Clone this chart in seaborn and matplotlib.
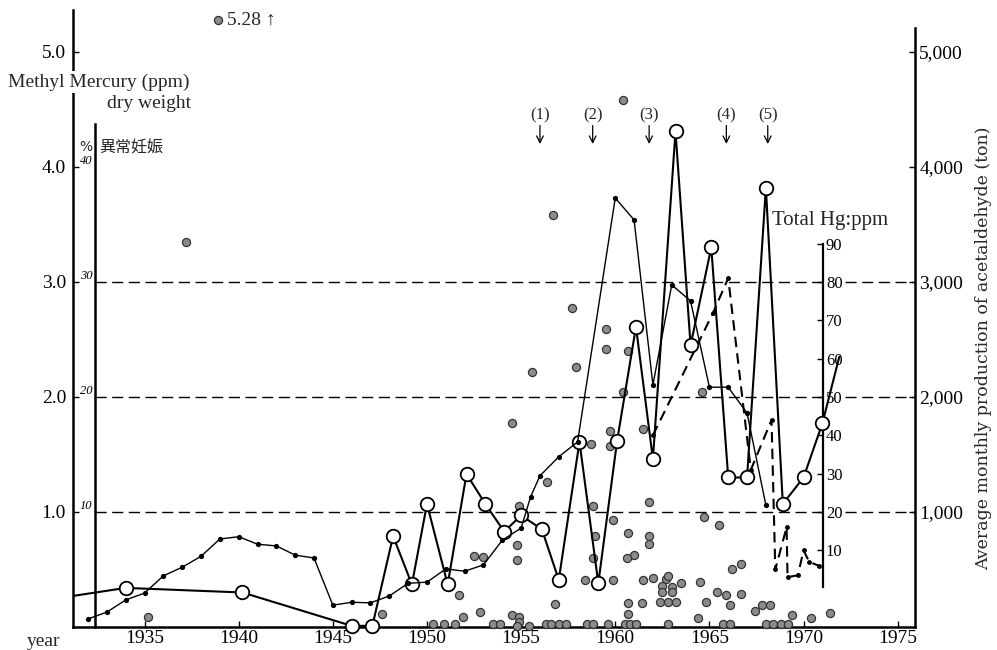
"""
水俣：脐带甲基汞浓度、异常妊娠率、总汞与乙醛月产量的历年对比图（复刻）。
"""

import matplotlib

matplotlib.use("Agg")
import matplotlib.pyplot as plt
import seaborn as sns

OUTPUT_PATH = "out.png"
FIG_W, FIG_H = 997, 650

# 坐标轴范围与刻度
YEAR_MIN, YEAR_MAX = 1931.2, 1975.92
PPM_MAX = 5.365
YEAR_TICKS = [1935, 1940, 1945, 1950, 1955, 1960, 1965, 1970, 1975]
PPM_TICKS = [1.0, 2.0, 3.0, 4.0, 5.0]
PCT_TICKS = [10, 20, 30, 40]
HG_TICKS = [10, 20, 30, 40, 50, 60, 70, 80, 90]
TON_TICKS = [1000, 2000, 3000, 4000, 5000]
GRID_PPM = [1.0, 2.0, 3.0]

# 额外纵轴所在的年份位置
PCT_AXIS_YEAR = 1932.37
HG_AXIS_YEAR = 1971.04

# 乙醛月平均产量（吨）
ACET_YEARS = [1932, 1933, 1934, 1935, 1936, 1937, 1938, 1939, 1940, 1941,
              1942, 1943, 1944, 1945, 1946, 1947, 1948, 1949, 1950, 1951,
              1952, 1953, 1954, 1955, 1955.5, 1956, 1957, 1958,
              1960, 1961, 1962, 1963, 1964, 1965, 1966, 1967, 1968]
ACET_TONS = [70, 130, 235, 295, 445, 520, 615, 765, 785, 720,
             705, 625, 600, 190, 215, 210, 270, 380, 390, 505,
             485, 540, 755, 860, 1130, 1315, 1480, 1610,
             3730, 3540, 2105, 2975, 2835, 2085, 2085, 1860, 1060]

# 异常妊娠（%），首尾两点只有连线没有圆圈
PCT_YEARS = [1931.2, 1934.0, 1940.2, 1946.0, 1947.1, 1948.2, 1949.2, 1950.0,
             1951.1, 1952.1, 1953.1, 1954.1, 1955.0, 1956.1, 1957.0, 1958.1,
             1959.1, 1960.1, 1961.1, 1962.0, 1963.2, 1964.0, 1965.1, 1966.0,
             1967.0, 1968.0, 1968.9, 1970.0, 1971.0, 1971.9]
PCT_VALUES = [2.7, 3.4, 3.0, 0.1, 0.1, 7.9, 3.7, 10.7,
              3.7, 13.3, 10.7, 8.3, 9.7, 8.5, 4.1, 16.1,
              3.8, 16.2, 26.1, 14.6, 43.1, 24.5, 33.0, 13.0,
              13.0, 38.2, 10.7, 13.0, 17.7, 23.5]

# 总汞（ppm），虚线
HG_YEARS = [1962.0, 1965.2, 1966.0, 1967.2, 1968.3, 1968.5, 1969.1, 1969.15,
            1969.7, 1970.0, 1970.3, 1970.8]
HG_VALUES = [40, 72, 81, 31, 44, 5, 16, 3, 3.5, 10, 7, 6]

# 脐带甲基汞（ppm，干重），灰色散点
CORD_YEARS = [1938.9, 1937.2, 1960.4, 1956.7, 1955.6, 1957.7, 1959.5, 1959.5,
              1957.9, 1960.7, 1960.4, 1964.6, 1954.5, 1956.4, 1958.7, 1959.7,
              1959.7, 1958.8, 1958.9, 1958.8, 1958.4, 1959.9, 1959.9, 1954.9,
              1954.8, 1954.8, 1956.8, 1951.7, 1952.5, 1953.0, 1952.8, 1951.9,
              1960.7, 1961.0, 1960.6, 1961.8, 1961.8, 1961.8, 1961.5, 1962.0,
              1962.7, 1962.8, 1962.5, 1963.0, 1963.5, 1962.5, 1963.0, 1962.4,
              1962.8, 1963.2, 1960.7, 1961.4, 1960.7, 1964.5, 1964.7, 1965.5,
              1966.2, 1966.7, 1965.4, 1965.9, 1966.7, 1964.8, 1966.1, 1967.4,
              1967.8, 1968.2, 1969.4, 1970.4, 1971.4, 1935.2, 1947.6, 1954.5,
              1954.9, 1954.9, 1961.5, 1964.4,
              1950.3, 1950.9, 1951.5, 1953.5, 1953.9, 1954.8, 1955.4, 1956.3,
              1956.6, 1957.0, 1957.4, 1958.5, 1958.8, 1959.6, 1960.5, 1960.8,
              1961.1, 1962.8, 1965.7, 1966.1, 1968.0, 1968.4, 1968.8, 1969.2]
CORD_PPM = [5.28, 3.35, 4.58, 3.58, 2.22, 2.77, 2.59, 2.42,
            2.26, 2.40, 2.04, 2.04, 1.77, 1.26, 1.59, 1.70,
            1.57, 1.05, 0.79, 0.60, 0.41, 0.41, 0.93, 1.05,
            0.71, 0.58, 0.20, 0.28, 0.62, 0.61, 0.13, 0.09,
            0.82, 0.63, 0.60, 1.09, 0.79, 0.72, 0.41, 0.43,
            0.42, 0.44, 0.36, 0.35, 0.38, 0.30, 0.30, 0.22,
            0.22, 0.22, 0.21, 0.21, 0.11, 0.39, 0.96, 0.89,
            0.50, 0.55, 0.30, 0.28, 0.29, 0.22, 0.19, 0.14,
            0.19, 0.19, 0.10, 0.08, 0.12, 0.09, 0.11, 0.10,
            0.09, 0.04, 1.72, 0.08,
            0.03, 0.03, 0.03, 0.03, 0.03, 0.01, 0.01, 0.03,
            0.03, 0.03, 0.03, 0.03, 0.03, 0.03, 0.03, 0.03,
            0.03, 0.03, 0.03, 0.03, 0.03, 0.03, 0.03, 0.03]

# 工艺变更标记 (1)-(5)
EVENT_YEARS = [1956.0, 1958.8, 1961.8, 1965.9, 1968.1]

SERIF = ["Liberation Serif", "DejaVu Sans"]
CJK = ["Noto Sans CJK JP", "DejaVu Sans"]


def fig_xy(px: float, py: float) -> tuple[float, float]:
    """像素坐标（左上为原点）转换为 figure 坐标。"""
    return px / FIG_W, 1 - py / FIG_H


def hide_spines(axis) -> None:
    for spine in axis.spines.values():
        spine.set_visible(False)


def main() -> None:
    sns.set_theme(style="white")
    plt.rcParams["font.family"] = SERIF
    plt.rcParams["axes.unicode_minus"] = False

    fig = plt.figure(figsize=(FIG_W / 100, FIG_H / 100), dpi=100)
    fig.patch.set_facecolor("white")
    ax = fig.add_axes([73 / FIG_W, 23 / FIG_H, 842 / FIG_W, 617 / FIG_H])
    ax.set_xlim(YEAR_MIN, YEAR_MAX)
    ax.set_ylim(0, PPM_MAX)
    ax.patch.set_alpha(0)

    hide_spines(ax)
    for side in ("left", "bottom"):
        ax.spines[side].set_visible(True)
        ax.spines[side].set_color("black")
        ax.spines[side].set_linewidth(1.8)

    ax.set_xticks(YEAR_TICKS, labels=[str(y) for y in YEAR_TICKS])
    ax.set_yticks(PPM_TICKS, labels=[f"{v:.1f}" for v in PPM_TICKS])
    ax.tick_params(axis="both", direction="in", length=4, width=1, colors="black",
                   labelsize=14, left=True, bottom=True)
    ax.tick_params(axis="x", pad=2)
    ax.tick_params(axis="y", pad=5)
    ax.set_xlabel("")
    ax.set_ylabel("")

    # 水平虚线
    ax.hlines(GRID_PPM, PCT_AXIS_YEAR, YEAR_MAX, colors="black",
              linestyles=(0, (8, 4)), linewidth=1.0, zorder=1)

    # 脐带甲基汞散点
    sns.scatterplot(x=CORD_YEARS, y=CORD_PPM, ax=ax, s=34, color="#8c8c8c",
                    edgecolor="#333333", linewidth=0.9, clip_on=False, zorder=3)

    # 总汞轴
    ax_hg = ax.twinx()
    ax_hg.set_ylim(-10, 30 * PPM_MAX - 10)
    hide_spines(ax_hg)
    ax_hg.spines["right"].set_visible(True)
    ax_hg.spines["right"].set_position(("data", HG_AXIS_YEAR))
    ax_hg.spines["right"].set_bounds(0.5, 90)
    ax_hg.spines["right"].set_linewidth(1.6)
    ax_hg.spines["right"].set_color("black")
    ax_hg.set_yticks(HG_TICKS, labels=[str(v) for v in HG_TICKS])
    ax_hg.tick_params(axis="y", direction="in", length=4, width=1, labelsize=12,
                      pad=2, colors="black", right=True, left=False)
    for label in ax_hg.get_yticklabels():
        label.set_bbox(dict(facecolor="white", edgecolor="none", pad=0.5))
    sns.lineplot(x=HG_YEARS, y=HG_VALUES, ax=ax_hg, color="black", linewidth=1.5,
                 linestyle=(0, (5, 3)), marker="o", markersize=3.5,
                 markeredgewidth=0, sort=False, estimator=None, zorder=4)
    ax_hg.set_ylabel("")

    # 异常妊娠（%）轴
    ax_pct = ax.twinx()
    ax_pct.set_ylim(0, 10 * PPM_MAX)
    hide_spines(ax_pct)
    ax_pct.spines["left"].set_visible(True)
    ax_pct.spines["left"].set_position(("data", PCT_AXIS_YEAR))
    ax_pct.spines["left"].set_bounds(0, 43.7)
    ax_pct.spines["left"].set_linewidth(1.8)
    ax_pct.spines["left"].set_color("black")
    ax_pct.yaxis.set_ticks_position("left")
    ax_pct.set_yticks(PCT_TICKS, labels=[str(v) for v in PCT_TICKS])
    ax_pct.tick_params(axis="y", left=True, labelleft=True, right=False,
                       labelright=False, length=0, pad=2, labelsize=9, colors="black")
    for label in ax_pct.get_yticklabels():
        label.set_fontstyle("italic")
        label.set_verticalalignment("bottom")
    sns.lineplot(x=PCT_YEARS, y=PCT_VALUES, ax=ax_pct, color="black", linewidth=1.5,
                 sort=False, estimator=None, zorder=4)
    sns.scatterplot(x=PCT_YEARS[1:-1], y=PCT_VALUES[1:-1], ax=ax_pct, s=95,
                    color="white", edgecolor="black", linewidth=1.3,
                    clip_on=False, zorder=5)
    ax_pct.set_ylabel("")

    # 乙醛月产量轴
    ax_ton = ax.twinx()
    ax_ton.set_ylim(0, 1000 * PPM_MAX)
    hide_spines(ax_ton)
    ax_ton.spines["right"].set_visible(True)
    ax_ton.spines["right"].set_bounds(0, 5210)
    ax_ton.spines["right"].set_linewidth(1.8)
    ax_ton.spines["right"].set_color("black")
    ax_ton.set_yticks(TON_TICKS, labels=[f"{v:,}" for v in TON_TICKS])
    ax_ton.tick_params(axis="y", direction="in", length=4, width=1, labelsize=14,
                       pad=3, colors="black", right=True, left=False)
    sns.lineplot(x=ACET_YEARS, y=ACET_TONS, ax=ax_ton, color="black", linewidth=1.0,
                 marker="o", markersize=3.8, markeredgewidth=0, sort=False,
                 estimator=None, zorder=4)
    ax_ton.set_ylabel("")

    # 5.28 超出刻度的标注
    ax.text(CORD_YEARS[0] + 0.5, CORD_PPM[0], "5.28 ↑", fontsize=14,
            va="center", ha="left", family=SERIF)

    # (1)~(5) 箭头
    for number, year in enumerate(EVENT_YEARS, start=1):
        ax.text(year, 4.45, f"({number})", fontsize=12, ha="center", va="center")
        ax.annotate("", xy=(year, 4.2), xytext=(year, 4.36),
                    arrowprops=dict(arrowstyle="->", lw=0.9, color="black",
                                    shrinkA=0, shrinkB=0))

    # 轴标题与说明文字
    fig.text(*fig_xy(8, 82), "Methyl Mercury (ppm)", fontsize=14, ha="left",
             va="center", bbox=dict(facecolor="white", edgecolor="none", pad=2))
    fig.text(*fig_xy(107, 103), "dry weight", fontsize=14, ha="left", va="center")
    fig.text(*fig_xy(79, 147), "%", fontsize=10, ha="left", va="center",
             family=["DejaVu Sans"])
    fig.text(*fig_xy(99, 148), "異常妊娠", fontsize=11.5, ha="left", va="center",
             family=CJK)
    fig.text(*fig_xy(27, 642), "year", fontsize=14, ha="left", va="center")
    fig.text(*fig_xy(772, 220), "Total Hg:ppm", fontsize=15, ha="left", va="center")
    fig.text(*fig_xy(984, 348), "Average monthly production of acetaldehyde (ton)",
             fontsize=12.5, rotation=90, ha="center", va="center",
             family=["DejaVu Serif"])

    fig.savefig(OUTPUT_PATH, dpi=100, facecolor="white")
    plt.close(fig)


if __name__ == "__main__":
    main()
